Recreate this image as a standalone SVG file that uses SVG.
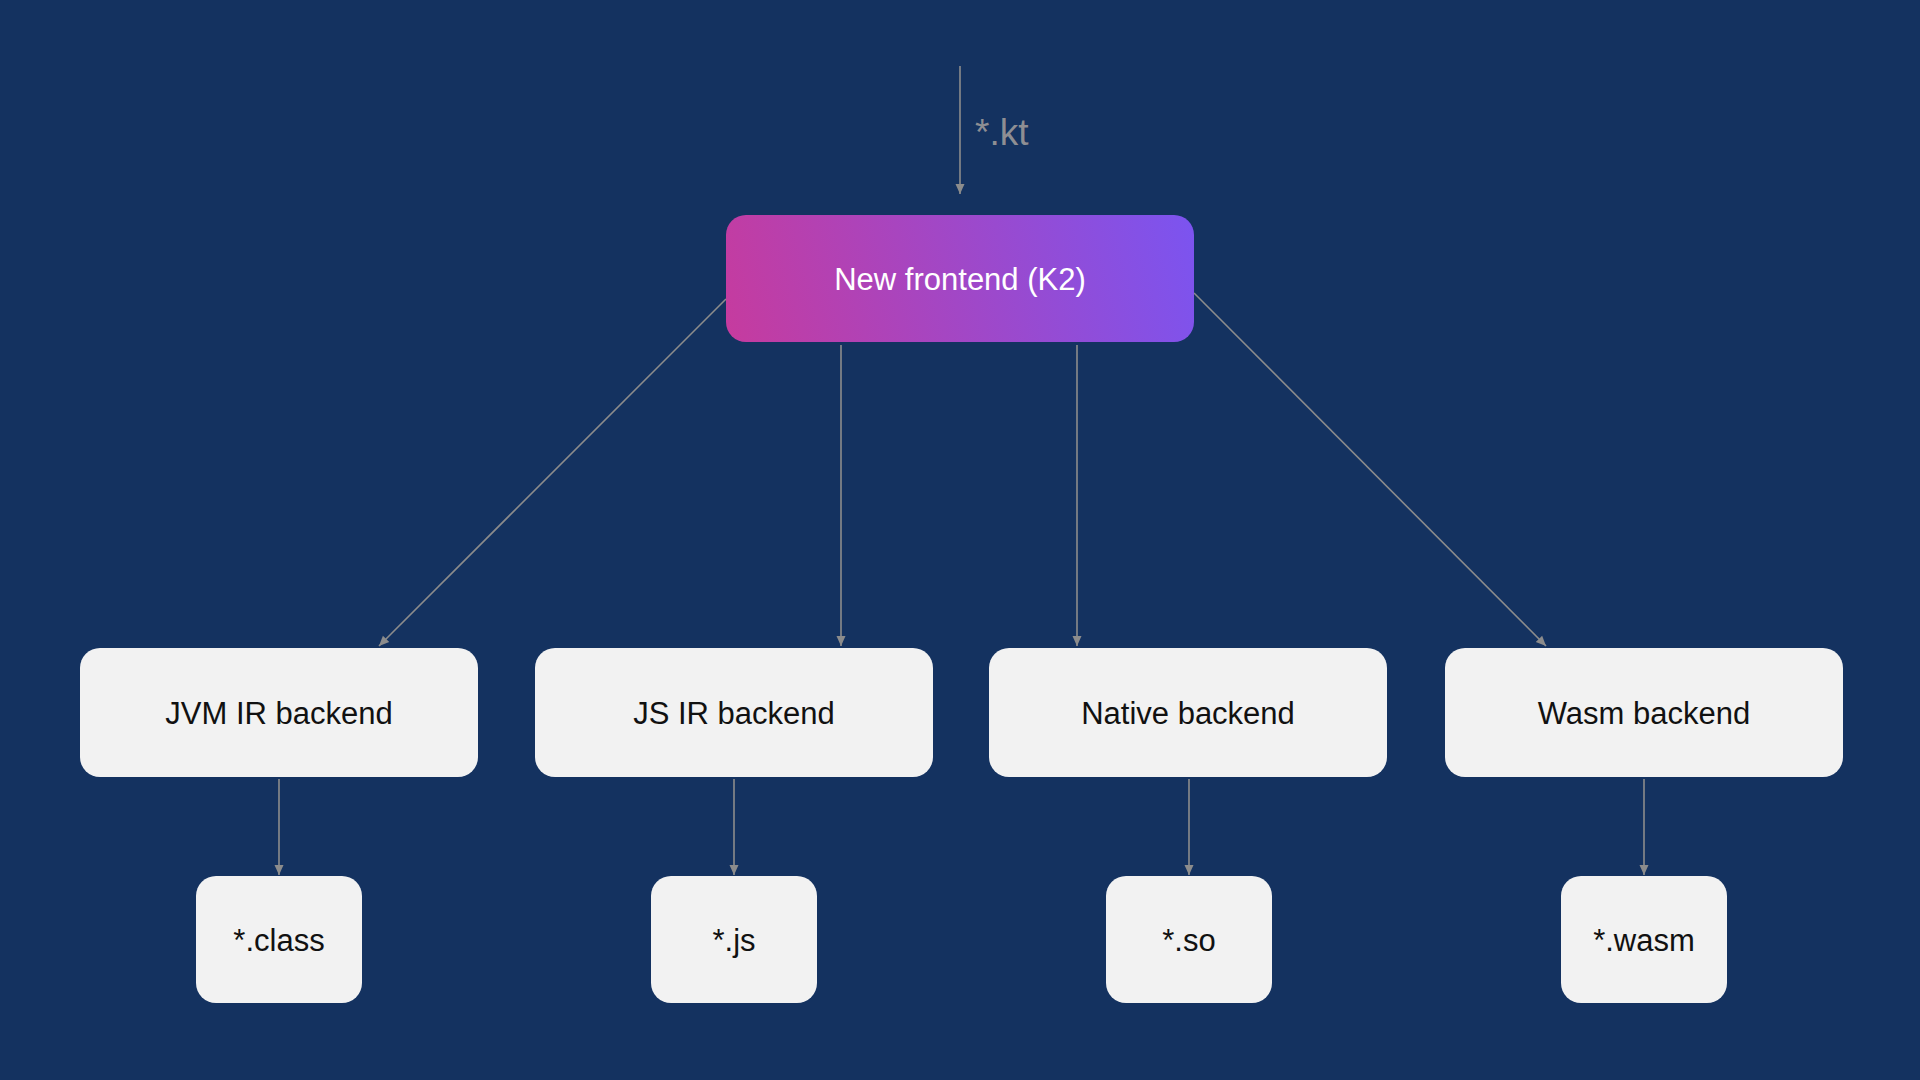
<svg xmlns="http://www.w3.org/2000/svg" width="1920" height="1080" viewBox="0 0 1920 1080">
  <defs>
    <linearGradient id="k2grad" gradientUnits="userSpaceOnUse" x1="726" y1="342" x2="1194" y2="215">
      <stop offset="0" stop-color="#c63b9e"/>
      <stop offset="1" stop-color="#7b54f0"/>
    </linearGradient>
    <marker id="arrow" markerUnits="userSpaceOnUse" markerWidth="10" markerHeight="10" viewBox="0 0 10 10" refX="10" refY="5" orient="auto">
      <path d="M0,0.5 L10,5 L0,9.5 Z" fill="#8c8c8c"/>
    </marker>
    <style>
      .box { fill: #f2f2f2; }
      .lbl { font-family: "Liberation Sans", Arial, Helvetica, sans-serif; font-size: 31px; fill: #111111; text-anchor: middle; }
      .wlbl { font-family: "Liberation Sans", Arial, Helvetica, sans-serif; font-size: 31px; fill: #ffffff; text-anchor: middle; }
      .klbl { font-family: "Liberation Sans", Arial, Helvetica, sans-serif; font-size: 37px; fill: #8e8e93; }
      .conn { stroke: #8c8c8c; stroke-width: 1.6; fill: none; marker-end: url(#arrow); }
    </style>
  </defs>
  <rect x="0" y="0" width="1920" height="1080" fill="#143260"/>

  <g id="connectors">
    <line class="conn" x1="960" y1="66" x2="960" y2="194"/>
    <line class="conn" x1="726" y1="299" x2="379" y2="646"/>
    <line class="conn" x1="841" y1="345" x2="841" y2="646"/>
    <line class="conn" x1="1077" y1="345" x2="1077" y2="646"/>
    <line class="conn" x1="1194" y1="293" x2="1546" y2="646"/>
    <line class="conn" x1="279" y1="779" x2="279" y2="875"/>
    <line class="conn" x1="734" y1="779" x2="734" y2="875"/>
    <line class="conn" x1="1189" y1="779" x2="1189" y2="875"/>
    <line class="conn" x1="1644" y1="779" x2="1644" y2="875"/>
  </g>
  <text class="klbl" x="975" y="145">*.kt</text>

  <g id="frontend">
    <rect x="726" y="215" width="468" height="127" rx="20" fill="url(#k2grad)"/>
    <text class="wlbl" x="960" y="290">New frontend (K2)</text>
  </g>

  <g id="jvm">
    <rect class="box" x="80" y="648" width="398" height="129" rx="20"/>
    <text class="lbl" x="279" y="724">JVM IR backend</text>
  </g>
  <g id="js">
    <rect class="box" x="535" y="648" width="398" height="129" rx="20"/>
    <text class="lbl" x="734" y="724">JS IR backend</text>
  </g>
  <g id="native">
    <rect class="box" x="989" y="648" width="398" height="129" rx="20"/>
    <text class="lbl" x="1188" y="724">Native backend</text>
  </g>
  <g id="wasm">
    <rect class="box" x="1445" y="648" width="398" height="129" rx="20"/>
    <text class="lbl" x="1644" y="724">Wasm backend</text>
  </g>

  <g id="class">
    <rect class="box" x="196" y="876" width="166" height="127" rx="20"/>
    <text class="lbl" x="279" y="951">*.class</text>
  </g>
  <g id="jsout">
    <rect class="box" x="651" y="876" width="166" height="127" rx="20"/>
    <text class="lbl" x="734" y="951">*.js</text>
  </g>
  <g id="so">
    <rect class="box" x="1106" y="876" width="166" height="127" rx="20"/>
    <text class="lbl" x="1189" y="951">*.so</text>
  </g>
  <g id="wasmout">
    <rect class="box" x="1561" y="876" width="166" height="127" rx="20"/>
    <text class="lbl" x="1644" y="951">*.wasm</text>
  </g>
</svg>
